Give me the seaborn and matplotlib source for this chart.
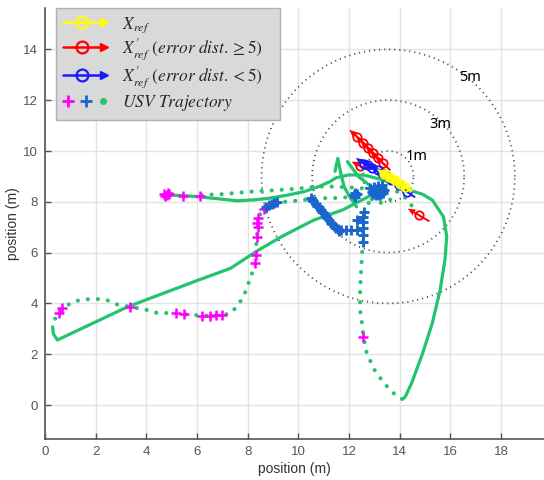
import numpy as np
import matplotlib
matplotlib.use("Agg")
import matplotlib.pyplot as plt
import seaborn as sns
from matplotlib.lines import Line2D
from matplotlib.legend_handler import HandlerBase, HandlerTuple

# ---------------- data ----------------
# solid trajectory (upper run -> cluster -> right loop)
solid_a_x = [4.79, 5.5, 6.06, 7.0, 7.58, 8.3, 8.84, 9.5, 10.23, 10.86, 11.24, 11.5, 12.0, 12.6, 13.2, 13.8, 14.4, 14.9, 15.29, 15.73, 15.86, 15.79, 15.6, 15.29, 14.91, 14.47, 14.21, 14.1]
solid_a_y = [8.27, 8.24, 8.2, 8.1, 8.04, 8.08, 8.14, 8.25, 8.4, 8.62, 8.79, 8.95, 9.06, 9.05, 8.9, 8.7, 8.45, 8.3, 8.07, 7.41, 6.63, 5.71, 4.53, 3.22, 2.04, 0.85, 0.3, 0.24]
# solid diagonal run
solid_e_x = [0.3, 0.33, 0.49, 3.27, 6.06, 7.32, 8.33, 9.34, 10.61, 11.75, 12.51, 12.89, 13.5]
solid_e_y = [3.08, 2.8, 2.56, 3.87, 4.92, 5.38, 6.04, 6.63, 7.28, 7.68, 8.07, 8.27, 8.4]
# short solid strokes inside the cluster
solid_f_x = [11.45, 11.56, 11.68, 11.81, 12.0, 12.3]
solid_f_y = [9.2, 9.71, 9.12, 8.59, 8.25, 7.8]
solid_g_x = [11.94, 12.38, 12.89, 13.3]
solid_g_y = [9.58, 8.99, 8.59, 8.45]

# dotted trajectory pieces
dot_b_x = [14.1, 13.77, 13.39, 13.01, 12.7, 12.57, 12.53, 12.44, 12.44, 12.48, 12.53, 12.55, 12.6, 12.9, 13.3]
dot_b_y = [0.24, 0.46, 0.85, 1.38, 2.04, 2.69, 3.08, 3.74, 4.4, 5.31, 6.17, 6.8, 7.6, 8.2, 8.4]
dot_c_x = [6.18, 7.0, 8.08, 9.0, 10.0, 10.7, 11.5, 12.25, 12.9]
dot_c_y = [8.27, 8.3, 8.4, 8.45, 8.52, 8.6, 8.6, 8.55, 8.5]
dot_d_x = [12.25, 11.5, 10.74, 10.0, 9.47, 9.15, 8.71, 8.65, 8.45, 8.4, 8.37, 8.33, 8.31, 8.08, 7.89, 7.64, 7.32, 7.0, 6.5, 6.18, 5.49, 5.17, 4.41, 4.03, 3.34, 2.89, 2.52, 2.14, 1.76, 1.38, 1.13, 0.68, 0.56, 0.37, 0.3]
dot_d_y = [8.2, 8.15, 8.14, 8.05, 8.0, 8.0, 7.81, 7.7, 7.45, 7.2, 6.63, 6.2, 5.58, 4.92, 4.4, 3.94, 3.61, 3.54, 3.52, 3.52, 3.57, 3.61, 3.63, 3.74, 3.87, 3.94, 4.11, 4.17, 4.17, 4.13, 4.07, 3.81, 3.63, 3.35, 3.08]
dot_h_x = [13.9, 14.3, 14.65]
dot_h_y = [8.4, 8.1, 7.6]
dot_k_x = [12.9, 13.2, 13.6, 13.8]
dot_k_y = [8.1, 7.95, 8.05, 8.3]

# magenta crosses
mag_x = [4.7, 4.8, 4.9, 4.85, 4.75, 5.46, 6.12, 8.65, 8.4, 8.4, 8.36, 8.37, 8.33, 8.31,
         7.0, 6.75, 6.5, 6.18, 5.49, 5.17, 3.34, 0.68, 0.56, 12.57]
mag_y = [8.3, 8.25, 8.3, 8.35, 8.22, 8.23, 8.23, 7.70, 7.35, 7.02, 7.15, 6.63, 5.91, 5.58,
         3.54, 3.54, 3.52, 3.52, 3.57, 3.61, 3.87, 3.81, 3.63, 2.69]

# blue crosses
blue_x = [8.71, 8.85, 8.95, 9.05, 9.15,
          10.5, 10.55, 10.6, 10.7, 10.75, 10.8, 10.9, 10.95, 11.0, 11.1, 11.15, 11.2, 11.3, 11.35, 11.4, 11.5, 11.55, 11.6,
          11.7, 11.9, 12.1, 12.3,
          12.55, 12.55, 12.55, 12.55, 12.55, 12.32, 12.6,
          12.2, 12.25, 12.3, 12.25,
          12.85, 12.95, 13.05, 13.1, 13.2, 13.3, 13.4, 13.0, 13.25, 13.15, 12.9,
          13.35, 13.05, 13.2, 12.95, 13.3]
blue_y = [7.81, 7.86, 7.9, 7.95, 8.0,
          8.15, 8.08, 8.02, 7.9, 7.84, 7.78, 7.66, 7.6, 7.55, 7.43, 7.37, 7.3, 7.18, 7.12, 7.06, 6.95, 6.91, 6.87,
          6.89, 6.89, 6.89, 6.9,
          6.43, 6.7, 6.96, 7.2, 7.41, 7.28, 7.6,
          8.27, 8.2, 8.3, 8.35,
          8.55, 8.45, 8.35, 8.5, 8.4, 8.55, 8.45, 8.6, 8.3, 8.62, 8.4,
          8.35, 8.25, 8.28, 8.3, 8.65]

# reference arrows: centre (x, y) and vector (u, v)
red_x = [12.32, 12.57, 12.76, 12.95, 13.14, 13.33, 12.45, 14.75]
red_y = [10.56, 10.3, 10.1, 9.91, 9.71, 9.52, 9.41, 7.48]
red_u = [-0.6, -0.6, -0.6, -0.6, -0.6, -0.6, -0.7, -0.85]
red_v = [0.55, 0.55, 0.55, 0.55, 0.55, 0.55, 0.34, 0.5]

blu_x = [12.6, 12.76, 12.9, 13.14, 13.3, 13.5, 13.64, 13.96, 14.28]
blu_y = [9.5, 9.45, 9.35, 9.25, 9.12, 9.0, 8.86, 8.66, 8.4]
blu_u = [-0.66] * 9
blu_v = [0.45] * 9

yel_x = [13.4, 13.6, 13.8, 14.0, 14.2]
yel_y = [9.1, 8.97, 8.85, 8.72, 8.6]
yel_u = [-0.6] * 5
yel_v = [0.37] * 5

# range circles
circle_cx, circle_cy = 13.55, 9.0
circle_r = [1, 3, 5]
circle_labels = ["1m", "3m", "5m"]
circle_label_x = [14.66, 15.6, 16.78]
circle_label_y = [9.78, 11.06, 12.91]

x_ticks = [0, 2, 4, 6, 8, 10, 12, 14, 16, 18]
y_ticks = [0, 2, 4, 6, 8, 10, 12, 14]

legend_labels = [r"$X_{ref}$",
                 r"$X^{\prime}_{ref}\ (error\ dist.\geq 5)$",
                 r"$X^{\prime}_{ref}\ (error\ dist.< 5)$",
                 r"$USV\ Trajectory$"]

# ---------------- style ----------------
GREEN = "#22c46c"
MAG = "#ff00ff"
BLUE_X = "#1b66cc"
RED = "#ff0000"
BLUE_A = "#1a1aff"
YEL = "#ffff00"

sns.set_theme(style="whitegrid")
plt.rcParams["font.family"] = ["Liberation Sans", "DejaVu Sans"]
plt.rcParams["mathtext.fontset"] = "stix"

fig = plt.figure(figsize=(5.44, 4.8), dpi=100)
ax = fig.add_axes([45 / 544, 1 - 439.3 / 480, 1 - 45 / 544, (439.3 - 8) / 480])
ax.set_facecolor("white")

# circles
th = np.linspace(0, 2 * np.pi, 400)
for r in circle_r:
    ax.plot(circle_cx + r * np.cos(th), circle_cy + r * np.sin(th), color="#444444",
            lw=1.3, linestyle=(0, (0.6, 2.2)), zorder=2)

solid_kw = dict(color=GREEN, lw=2.3, sort=False, estimator=None, ax=ax, zorder=3)
for xs, ys in [(solid_a_x, solid_a_y), (solid_e_x, solid_e_y), (solid_f_x, solid_f_y), (solid_g_x, solid_g_y)]:
    sns.lineplot(x=xs, y=ys, **solid_kw)

for xs, ys in [(dot_b_x, dot_b_y), (dot_c_x, dot_c_y), (dot_d_x, dot_d_y), (dot_h_x, dot_h_y), (dot_k_x, dot_k_y)]:
    ax.plot(xs, ys, color=GREEN, lw=3.0, linestyle=(0, (0.01, 2.4)),
            dash_capstyle="round", zorder=3)

sns.scatterplot(x=mag_x, y=mag_y, marker="+", s=60, color=MAG, linewidth=1.8, ax=ax, zorder=4)
sns.scatterplot(x=blue_x, y=blue_y, marker="+", s=60, color=BLUE_X, linewidth=2.1, ax=ax, zorder=4)

qkw = dict(angles="xy", scale_units="xy", scale=1, pivot="mid", width=0.004,
           headwidth=3.5, headlength=4, headaxislength=3.5, zorder=5)
ax.quiver(red_x, red_y, red_u, red_v, color=RED, **qkw)
ax.plot(red_x, red_y, "o", mfc="none", mec=RED, ms=6, mew=1.3, zorder=5)
ax.quiver(blu_x, blu_y, blu_u, blu_v, color=BLUE_A, **qkw)
ax.plot(blu_x, blu_y, "o", mfc="none", mec=BLUE_A, ms=6, mew=1.3, zorder=5)
ax.quiver(yel_x, yel_y, yel_u, yel_v, color=YEL, **dict(qkw, width=0.006))
ax.plot(yel_x, yel_y, "o", mfc="none", mec=YEL, ms=6, mew=1.3, zorder=6)

for lab, lx, ly in zip(circle_labels, circle_label_x, circle_label_y):
    ax.text(lx, ly, lab, fontsize=10.5, fontweight="bold", color="black",
            ha="center", va="center", family=["Noto Sans", "DejaVu Sans"], zorder=7)

ax.set_xlim(0, 19.7)
ax.set_ylim(-1.35, 15.63)
ax.set_xticks(x_ticks)
ax.set_yticks(y_ticks)
ax.grid(True, color="#e3e3e3", lw=1.0)
for s in ["top", "right"]:
    ax.spines[s].set_visible(False)
for s in ["left", "bottom"]:
    ax.spines[s].set_visible(True)
    ax.spines[s].set_color("#555555")
    ax.spines[s].set_linewidth(1.2)
ax.tick_params(direction="in", length=4, width=1, color="#555555",
               labelcolor="#555555", labelsize=9.5, pad=5,
               bottom=True, left=True)
ax.set_xlabel("position (m)", fontsize=10, color="#333333", labelpad=3)
ax.set_ylabel("position (m)", fontsize=10, color="#333333", labelpad=2)


class HandlerArrow(HandlerBase):
    def create_artists(self, legend, orig_handle, xdescent, ydescent, width, height, fontsize, trans):
        c = orig_handle.get_color()
        y = height / 2 - ydescent
        x0 = -xdescent
        x1 = x0 + width
        line = Line2D([x0, x1 - 3], [y, y], color=c, lw=1.8)
        circ = Line2D([x0 + 0.42 * width], [y], marker="o", mfc="none", mec=c, ms=8.5, mew=1.6, ls="none")
        head = Line2D([x1 - 3], [y], marker=">", color=c, ms=5.5, ls="none")
        for a in (line, circ, head):
            a.set_transform(trans)
        return [line, circ, head]


h1 = Line2D([], [], color=YEL)
h2 = Line2D([], [], color=RED)
h3 = Line2D([], [], color=BLUE_A)
h4 = (Line2D([], [], marker="+", color=MAG, ls="none", ms=9, mew=2),
      Line2D([], [], marker="+", color=BLUE_X, ls="none", ms=9, mew=2),
      Line2D([], [], marker="o", color=GREEN, ls="none", ms=4))
ha = HandlerArrow()
leg_w = (280 - 56) / 544
leg = ax.legend([h1, h2, h3, h4], legend_labels,
                handler_map={h1: ha, h2: ha, h3: ha, tuple: HandlerTuple(ndivide=None, pad=0.4)},
                loc="upper left", bbox_to_anchor=(56 / 544, 1 - 8 / 480 - 0.3, leg_w, 0.3),
                bbox_transform=fig.transFigure, borderaxespad=0, mode="expand",
                fontsize=12.5, handlelength=2.6, handletextpad=0.8, labelspacing=0.12,
                borderpad=0.4, fancybox=False, framealpha=1, facecolor="#d9d9d9",
                edgecolor="#b0b0b0")
leg.get_frame().set_linewidth(1.0)
leg.set_zorder(10)

fig.savefig("out.png", dpi=100)
